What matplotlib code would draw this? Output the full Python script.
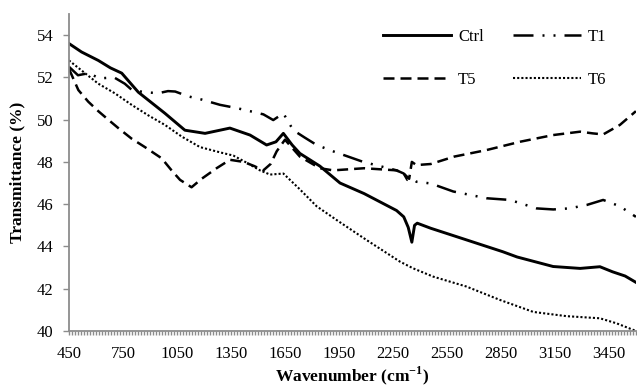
import matplotlib
matplotlib.use("Agg")
import matplotlib.pyplot as plt
from matplotlib.ticker import FixedLocator, MultipleLocator

# FTIR transmittance spectra
ctrl_wn = [450, 520, 613, 680, 743, 835, 983, 1094, 1206, 1289, 1344, 1456, 1548, 1600,
           1641, 1690, 1733, 1844, 1956, 2090, 2270, 2310, 2335, 2355, 2370, 2385, 2460,
           2590, 2860, 2940, 3140, 3290, 3400, 3470, 3540, 3600]
ctrl_t = [53.6, 53.2, 52.8, 52.45, 52.2, 51.3, 50.3, 49.5, 49.35, 49.5, 49.6, 49.27, 48.8, 48.95,
          49.35, 48.8, 48.4, 47.8, 47.0, 46.5, 45.7, 45.4, 44.9, 44.2, 45.0, 45.1, 44.86,
          44.5, 43.75, 43.5, 43.05, 42.96, 43.04, 42.8, 42.6, 42.3]

t1_wn = [450, 500, 560, 620, 700, 760, 800, 870, 946, 1000, 1040, 1113, 1187, 1289, 1380,
         1456, 1530, 1585, 1641, 1696, 1760, 1826, 1918, 2085, 2270, 2310, 2330, 2360, 2381,
         2460, 2585, 2770, 2900, 3048, 3141, 3230, 3326, 3418, 3511, 3600]
t1_t = [52.5, 52.1, 52.2, 51.95, 52.0, 51.7, 51.4, 51.3, 51.25, 51.35, 51.33, 51.1, 50.95, 50.7, 50.55,
        50.4, 50.25, 49.98, 50.3, 49.5, 49.15, 48.8, 48.5, 48.0, 47.6, 47.45, 47.15, 47.2, 47.06,
        46.98, 46.6, 46.28, 46.2, 45.8, 45.75, 45.8, 45.96, 46.2, 45.9, 45.4]

t5_wn = [450, 502, 557, 613, 668, 724, 798, 872, 965, 1020, 1067, 1131, 1187, 1270, 1344,
         1420, 1480, 1530, 1570, 1604, 1650, 1733, 1844, 1918, 2090, 2270, 2310, 2340, 2355,
         2380, 2460, 2590, 2770, 2960, 3140, 3290, 3360, 3418, 3511, 3600]
t5_t = [52.4, 51.4, 50.85, 50.4, 50.0, 49.6, 49.1, 48.7, 48.17, 47.6, 47.15, 46.8, 47.2, 47.7, 48.1,
        48.0, 47.8, 47.6, 47.9, 48.5, 49.05, 48.25, 47.7, 47.6, 47.7, 47.6, 47.45, 47.2, 48.0,
        47.85, 47.9, 48.25, 48.56, 48.96, 49.27, 49.43, 49.35, 49.3, 49.75, 50.4]

t6_wn = [450, 613, 706, 798, 891, 983, 1076, 1178, 1290, 1363, 1440, 1511, 1567, 1641, 1733,
         1826, 1937, 2104, 2289, 2363, 2474, 2659, 2844, 3030, 3215, 3400, 3493, 3600]
t6_t = [52.8, 51.7, 51.24, 50.7, 50.2, 49.75, 49.2, 48.7, 48.45, 48.3, 47.95, 47.6, 47.4, 47.45, 46.7,
        45.9, 45.25, 44.3, 43.28, 42.96, 42.57, 42.1, 41.47, 40.9, 40.7, 40.6, 40.36, 40.0]

x_ticks = list(range(450, 3451, 300))
y_ticks = list(range(40, 55, 2))

plt.rcParams["font.family"] = ["Liberation Serif", "DejaVu Serif"]
plt.rcParams["mathtext.fontset"] = "custom"
plt.rcParams["mathtext.rm"] = "Liberation Serif"
plt.rcParams["mathtext.bf"] = "Liberation Serif:bold"

axis_grey = "#8c8c8c"

fig = plt.figure(figsize=(6.37, 3.88), dpi=100)
ax = fig.add_axes([0.1083, 0.147, 0.890, 0.817])

h_ctrl, = ax.plot(ctrl_wn, ctrl_t, color="black", lw=2.1, label="Ctrl", solid_joinstyle="round")
h_t1, = ax.plot(t1_wn, t1_t, color="black", lw=1.8, label="T1",
                linestyle=(0, (8, 3.6, 0.8, 3.6, 0.8, 3.6)))
h_t5, = ax.plot(t5_wn, t5_t, color="black", lw=1.8, label="T5", linestyle=(0, (4.4, 2.4)))
h_t6, = ax.plot(t6_wn, t6_t, color="black", lw=1.5, label="T6", linestyle=(0, (1.0, 1.0)))

ax.set_xlim(450, 3600)
ax.set_ylim(40, 55)
ax.xaxis.set_major_locator(FixedLocator(x_ticks))
ax.xaxis.set_minor_locator(MultipleLocator(50 / 3))
ax.yaxis.set_major_locator(FixedLocator(y_ticks))

for side in ["top", "right"]:
    ax.spines[side].set_visible(False)
for side in ["left", "bottom"]:
    ax.spines[side].set_color(axis_grey)
    ax.spines[side].set_linewidth(1.3)

ax.tick_params(axis="x", which="both", direction="out", length=3, width=1.0,
               color=axis_grey, labelsize=12, pad=8)
ax.tick_params(axis="y", which="major", direction="out", length=4, width=1.0,
               color=axis_grey, labelsize=12, pad=7)

fig.text(0.5534, 0.032, r"Wavenumber (cm$^{\mathbf{-1}}$)", ha="center", va="center",
         fontsize=12.5, fontweight="bold")
fig.text(0.028, 0.555, "Transmittance (%)", ha="center", va="center", rotation=90,
         fontsize=12.5, fontweight="bold")

# column-major order so rows read Ctrl, T1 / T5, T6
ax.legend([h_ctrl, h_t5, h_t1, h_t6], ["Ctrl", "T5", "T1", "T6"],
          loc="upper left", bbox_to_anchor=(383 / 637, 1 - 29 / 388),
          bbox_transform=fig.transFigure, ncol=2, frameon=False, fontsize=12,
          handlelength=4.1, handletextpad=0.4, columnspacing=1.75,
          labelspacing=1.6, borderpad=0, borderaxespad=0)

fig.savefig("out.png", dpi=100)
